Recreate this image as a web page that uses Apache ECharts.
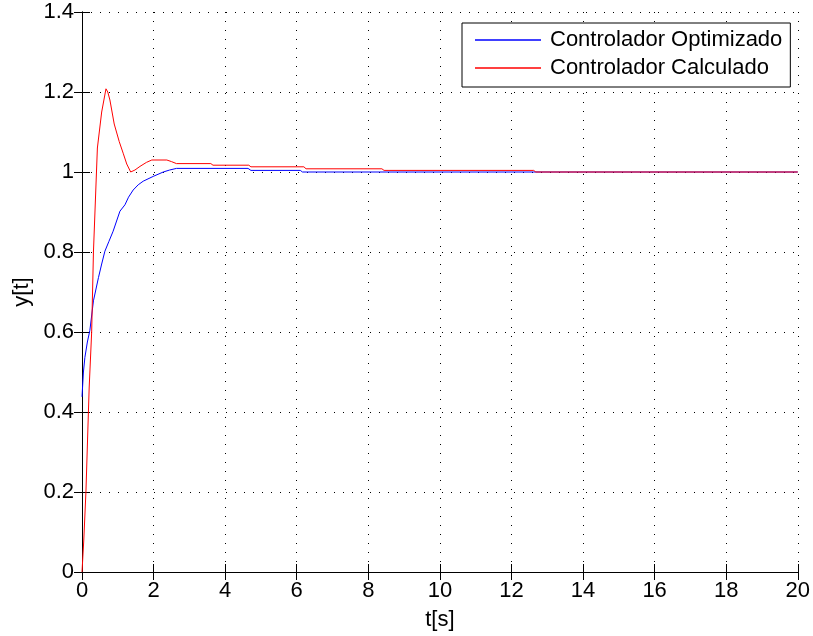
<!DOCTYPE html>
<html>
<head>
<meta charset="utf-8">
<script src="https://cdn.jsdelivr.net/npm/echarts@6/dist/echarts.min.js"></script>
<style>
  html, body { margin: 0; padding: 0; background: #fff; }
  #chart { width: 813px; height: 636px; }
</style>
</head>
<body>
<div id="chart"></div>
<script>
// datos
var tOpt = [0, 0.04, 0.08, 0.15, 0.22, 0.32, 0.46, 0.55, 0.64, 0.75, 0.87, 1.06, 1.2, 1.3, 1.43, 1.57, 1.71, 1.99, 2.27, 2.45, 2.64, 4.64, 4.72, 6.1, 6.16, 12.6, 20]
var yOpt = [0.438, 0.5, 0.536, 0.575, 0.604, 0.678, 0.736, 0.77, 0.802, 0.826, 0.852, 0.902, 0.918, 0.937, 0.955, 0.968, 0.977, 0.989, 1.0, 1.005, 1.009, 1.009, 1.004, 1.004, 1.0, 1.0, 1.0]

var tCalc = [0, 0.05, 0.11, 0.2, 0.27, 0.32, 0.43, 0.55, 0.67, 0.72, 0.78, 0.9, 1.04, 1.15, 1.25, 1.36, 1.48, 1.62, 1.8, 1.95, 2.37, 2.5, 2.64, 3.6, 3.66, 4.66, 4.72, 6.2, 6.26, 8.38, 8.44, 12.62, 12.68, 20]
var yCalc = [0, 0.08, 0.2, 0.46, 0.6, 0.8, 1.06, 1.15, 1.208, 1.2, 1.18, 1.12, 1.076, 1.047, 1.02, 1.0, 1.005, 1.014, 1.024, 1.03, 1.03, 1.026, 1.021, 1.021, 1.017, 1.017, 1.013, 1.013, 1.008, 1.008, 1.004, 1.004, 1.0, 1.0]

var xTicks = { min: 0, max: 20, step: 2 }
var yTicks = { min: 0, max: 1.4, step: 0.2 }

function pares(t, y) {
  return t.map(function (v, i) { return [v, y[i]] })
}

var fuente = 'Liberation Sans, Arial, sans-serif'
var tick = { show: true, inside: true, length: 8, lineStyle: { color: '#000' } }
var grilla = { show: true, lineStyle: { color: '#000', width: 1, type: [1, 8] } }

var chart = echarts.init(document.getElementById('chart'))
chart.setOption({
  animation: false,
  backgroundColor: '#fff',
  grid: { left: 82, right: 14, top: 12, bottom: 59, containLabel: false },
  legend: {
    orient: 'vertical',
    left: 462,
    top: 23,
    padding: [6, 8, 8, 13],
    itemGap: 6,
    itemWidth: 66,
    itemHeight: 1.3,
    icon: 'rect',
    backgroundColor: '#fff',
    borderColor: '#000',
    borderWidth: 1,
    textStyle: { fontFamily: fuente, fontSize: 22, color: '#000', padding: [0, 0, 0, 4] },
    data: ['Controlador Optimizado', 'Controlador Calculado']
  },
  xAxis: [
    {
      type: 'value', min: xTicks.min, max: xTicks.max, interval: xTicks.step,
      name: 't[s]', nameLocation: 'middle', nameGap: 37,
      nameTextStyle: { fontFamily: fuente, fontSize: 22, color: '#000' },
      axisLine: { lineStyle: { color: '#000' } },
      axisTick: tick,
      axisLabel: { fontFamily: fuente, fontSize: 22, color: '#000', margin: 8 },
      splitLine: grilla
    },
    {
      type: 'value', position: 'top', min: xTicks.min, max: xTicks.max, interval: xTicks.step,
      axisLine: { lineStyle: { color: '#000' } },
      axisTick: tick, axisLabel: { show: false }, splitLine: { show: false }
    }
  ],
  yAxis: [
    {
      type: 'value', min: yTicks.min, max: yTicks.max, interval: yTicks.step,
      name: 'y[t]', nameLocation: 'middle', nameGap: 48,
      nameTextStyle: { fontFamily: fuente, fontSize: 22, color: '#000' },
      axisLine: { show: true, lineStyle: { color: '#000' } },
      axisTick: tick,
      axisLabel: { fontFamily: fuente, fontSize: 22, color: '#000', margin: 8 },
      splitLine: grilla
    },
    {
      type: 'value', position: 'right', min: yTicks.min, max: yTicks.max, interval: yTicks.step,
      axisLine: { show: true, lineStyle: { color: '#000' } },
      axisTick: tick, axisLabel: { show: false }, splitLine: { show: false }
    }
  ],
  series: [
    {
      name: 'Controlador Optimizado', type: 'line', symbol: 'none',
      lineStyle: { color: '#0000ff', width: 1 }, itemStyle: { color: '#0000ff' },
      data: pares(tOpt, yOpt)
    },
    {
      name: 'Controlador Calculado', type: 'line', symbol: 'none',
      lineStyle: { color: '#ff0000', width: 1 }, itemStyle: { color: '#ff0000' },
      data: pares(tCalc, yCalc)
    }
  ]
})
</script>
</body>
</html>
